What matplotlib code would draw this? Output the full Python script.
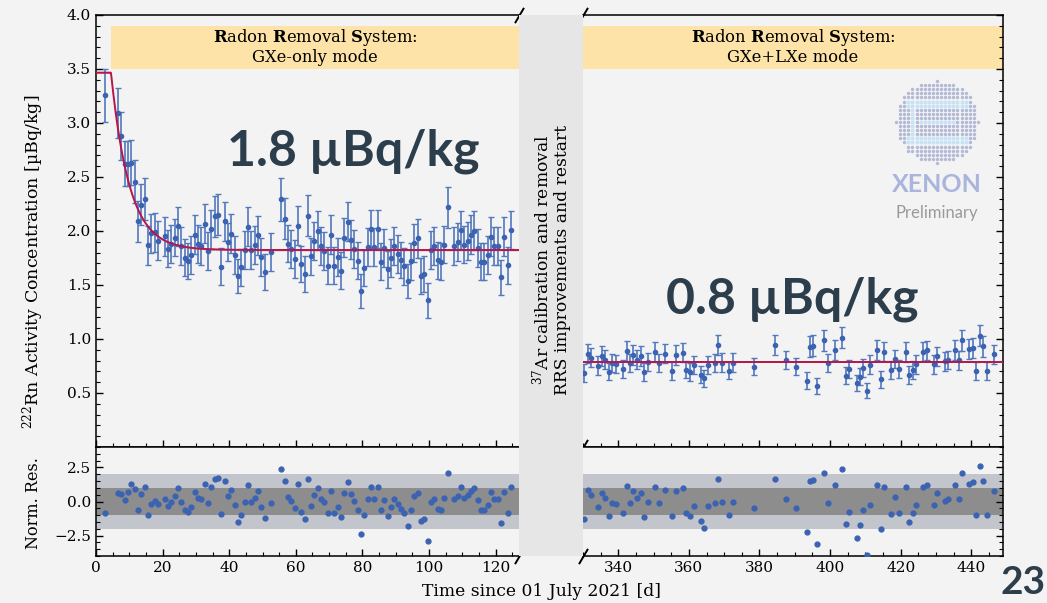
import numpy as np
import matplotlib
matplotlib.use("Agg")
import matplotlib.pyplot as plt
from matplotlib.ticker import MultipleLocator
from matplotlib.patches import Rectangle

# ---------------------------------------------------------------------------
# Rn-222 monitoring, GXe-only RRS period: day, normalised residual, 1-sigma error
gxe_day = [2.7, 6.6, 7.6, 8.6, 9.6, 10.6, 11.6, 12.6, 13.6, 14.6, 15.6, 16.6, 17.6, 18.6,
           20.6, 21.6, 22.6, 23.6, 24.6, 25.6, 26.6, 27.6, 28.6, 29.6, 30.6, 31.6, 32.6,
           33.6, 34.6, 35.6, 36.6, 37.6, 38.6, 39.6, 40.6, 41.6, 42.6, 43.6, 44.6, 45.6,
           46.6, 47.6, 48.6, 49.6, 50.6, 52.6, 55.6, 56.6, 57.6, 58.6, 59.6, 60.6, 61.6,
           62.6, 63.6, 64.6, 65.6, 66.6, 67.6, 68.6, 69.6, 70.6, 71.6, 72.6, 73.6, 74.6,
           75.6, 76.6, 77.6, 78.6, 79.6, 80.6, 81.6, 82.6, 83.6, 84.6, 85.6, 86.6, 87.6,
           88.6, 89.6, 90.6, 91.6, 92.6, 93.6, 94.6, 95.6, 96.6, 97.6, 98.6, 99.6, 100.6,
           101.6, 102.6, 103.6, 104.6, 105.6, 107.6, 108.6, 109.6, 110.6, 111.6, 112.6,
           113.6, 114.6, 115.6, 116.6, 117.6, 118.6, 119.6, 120.6, 121.6, 122.6, 123.6, 124.6]
gxe_res = [-0.86, 0.64, 0.56, 0.10, 0.71, 1.27, 0.91, -0.59, 0.56, 1.08, -0.98, -0.15, 0.07,
           -0.22, 0.22, -0.34, -0.02, 0.37, 0.98, 0.00, -0.59, -0.74, -0.39, 0.69, 0.25, 0.15,
           1.30, -0.12, 1.03, 1.62, 1.69, -0.93, 1.47, 0.39, 0.83, -0.29, -1.52, -0.96, 0.00,
           1.20, -0.02, 0.27, 0.76, -0.37, -1.20, -0.12, 2.40, 1.52, 0.34, 0.07, -0.49, 1.25,
           -0.76, -1.30, 1.67, -0.34, 0.47, 1.00, 0.20, -0.05, -0.86, 0.78, -0.86, -0.37,
           -1.13, 0.64, 1.45, 0.54, 0.05, -0.59, -2.38, -0.98, 0.17, 1.08, 0.17, 1.08, -0.64,
           0.10, -1.05, -0.42, 0.22, -0.20, -0.54, -0.88, -1.79, -0.61, 0.37, 0.61, -1.42,
           -1.30, -2.92, -0.02, 0.22, -0.56, -0.64, 0.29, 2.08, 0.22, 0.42, 1.03, 0.29, 0.47,
           0.78, 1.00, 0.12, -0.64, -0.64, -0.25, 0.69, 0.22, 0.22, -1.59, 0.69, -0.83, 1.03]
gxe_err = [0.245, 0.23, 0.22, 0.21, 0.21, 0.21, 0.20, 0.19, 0.19, 0.195, 0.18, 0.18, 0.18,
           0.18, 0.18, 0.175, 0.175, 0.175, 0.18, 0.175, 0.17, 0.17, 0.175, 0.18, 0.175, 0.175,
           0.18, 0.175, 0.18, 0.19, 0.19, 0.17, 0.18, 0.175, 0.18, 0.175, 0.16, 0.17, 0.175,
           0.18, 0.175, 0.175, 0.18, 0.175, 0.17, 0.175, 0.195, 0.19, 0.175, 0.175, 0.175, 0.18,
           0.17, 0.17, 0.19, 0.175, 0.175, 0.18, 0.175, 0.175, 0.17, 0.18, 0.17, 0.175,
           0.17, 0.18, 0.18, 0.18, 0.175, 0.17, 0.16, 0.17, 0.175, 0.18, 0.175, 0.18, 0.17,
           0.175, 0.17, 0.175, 0.175, 0.175, 0.17, 0.17, 0.16, 0.17, 0.175, 0.18, 0.17,
           0.17, 0.16, 0.175, 0.175, 0.17, 0.17, 0.175, 0.19, 0.175, 0.175, 0.18, 0.175, 0.175,
           0.18, 0.18, 0.175, 0.17, 0.17, 0.175, 0.18, 0.175, 0.175, 0.16, 0.18, 0.17, 0.18]

# GXe+LXe RRS period
lxe_day = [330.4, 331.4, 332.3, 334.3, 335.3, 336.3, 337.4, 338.3, 339.3, 341.3, 342.4, 343.3,
           344.3, 345.3, 346.3, 347.4, 348.3, 350.3, 351.4, 353.3, 355.3, 356.4, 358.4, 359.3,
           360.4, 361.4, 363.4, 364.3, 365.4, 367.3, 368.3, 369.3, 371.4, 372.4, 378.4, 384.4,
           387.4, 390.4, 393.4, 394.4, 395.3, 396.4, 398.4, 399.4, 401.4, 403.4, 404.4, 405.5,
           407.5, 408.4, 409.4, 410.4, 411.4, 413.4, 414.4, 415.4, 417.4, 418.3, 419.4, 421.4,
           422.4, 423.5, 424.4, 426.4, 427.4, 429.4, 430.4, 432.5, 433.4, 435.5, 436.4, 437.4,
           439.4, 440.4, 441.4, 442.5, 443.4, 444.5, 446.4]
lxe_res = [-1.27, 0.86, 0.47, -0.39, 0.64, 0.25, -1.08, -0.10, -0.20, -0.83, 1.13, -0.10,
           0.74, 0.25, 0.64, -1.15, -0.02, 1.03, -0.10, 0.86, -1.03, 0.74, 0.96, -0.86,
           -1.10, -0.32, -1.42, -1.94, -0.32, -0.10, 1.64, -0.07, -0.96, -0.07, -0.51, 1.67,
           0.22, -0.51, -2.23, 1.50, 1.59, -3.11, 2.11, -0.10, 1.23, 2.38, -1.62, -0.78,
           -2.67, -1.76, -0.64, -3.90, -0.27, 1.23, -2.03, 1.08, -0.93, 0.34, -0.81, 1.03,
           -1.47, -0.88, -0.25, 1.08, 1.20, -0.25, 0.59, 0.07, 0.20, 1.23, 0.17, 2.11,
           1.32, 1.45, -1.00, 2.57, 1.52, -1.00, 0.78]
lxe_err = [0.082, 0.09, 0.086, 0.086, 0.09, 0.086, 0.082, 0.086, 0.086, 0.082, 0.09, 0.086,
           0.09, 0.086, 0.09, 0.082, 0.086, 0.09, 0.086, 0.09, 0.082, 0.09, 0.09, 0.082,
           0.082, 0.086, 0.082, 0.078, 0.086, 0.086, 0.095, 0.086, 0.082, 0.086, 0.082, 0.095,
           0.086, 0.082, 0.078, 0.095, 0.095, 0.072, 0.095, 0.086, 0.09, 0.095, 0.078, 0.082,
           0.072, 0.078, 0.082, 0.068, 0.086, 0.09, 0.078, 0.09, 0.082, 0.086, 0.082, 0.09,
           0.082, 0.082, 0.086, 0.09, 0.09, 0.086, 0.09, 0.086, 0.086, 0.09, 0.086, 0.095,
           0.09, 0.09, 0.082, 0.095, 0.095, 0.082, 0.09]

# Fit parameters [µBq/kg, days]
rn_initial = 3.466
rn_gxe = 1.824
rn_lxe = 0.787
t_rrs_on = 4.5
tau_rn = 5.5


def gxe_model(t):
    t = np.asarray(t, dtype=float)
    decay = np.exp(-np.clip(t - t_rrs_on, 0, None) / tau_rn)
    return rn_gxe + (rn_initial - rn_gxe) * decay


def lxe_model(t):
    return np.full_like(np.asarray(t, dtype=float), rn_lxe)


gxe_conc = gxe_model(gxe_day) + np.array(gxe_res) * np.array(gxe_err)
lxe_conc = lxe_model(lxe_day) + np.array(lxe_res) * np.array(lxe_err)

# ---------------------------------------------------------------------------
plt.rcParams["font.family"] = "DejaVu Serif"
plt.rcParams["mathtext.fontset"] = "dejavuserif"

BG = "#f3f3f3"
GAP = "#e6e6e6"
BANNER = "#fde3a7"
BLUE = "#3b63b2"
BLUE_BAR = "#5378bd"
FIT = "#b5174b"
FIT_BAND = "#e9a6b8"
DARK_TXT = "#2c3d4b"

W, H = 1047, 603
fig = plt.figure(figsize=(W / 100, H / 100), dpi=100, facecolor=BG)


def box(x0, y0, x1, y1):
    return [x0 / W, 1 - y1 / H, (x1 - x0) / W, (y1 - y0) / H]


# grey strip marking the interruption between the two periods
fig.patches.append(Rectangle((519 / W, 1 - 556 / H), 64 / W, 541 / H,
                             transform=fig.transFigure, facecolor=GAP,
                             edgecolor="none", zorder=0))

ax_l = fig.add_axes(box(96, 15, 519, 447))
ax_lr = fig.add_axes(box(96, 447, 519, 556), sharex=ax_l)
ax_r = fig.add_axes(box(583, 15, 1003, 447))
ax_rr = fig.add_axes(box(583, 447, 1003, 556), sharex=ax_r)

ax_l.set_xlim(0, 127)
ax_r.set_xlim(330, 449)
for a in (ax_l, ax_r):
    a.set_ylim(0, 4.0)
    a.set_yticks(np.arange(0.5, 4.01, 0.5))
    a.yaxis.set_minor_locator(MultipleLocator(0.1))
for a in (ax_lr, ax_rr):
    a.set_ylim(-4, 4)
    a.yaxis.set_major_locator(MultipleLocator(2.5))
    a.yaxis.set_minor_locator(MultipleLocator(0.5))
for a in (ax_l, ax_lr, ax_r, ax_rr):
    a.xaxis.set_major_locator(MultipleLocator(20))
    a.xaxis.set_minor_locator(MultipleLocator(5))

for a in (ax_l, ax_lr, ax_r, ax_rr):
    a.set_facecolor(BG)
    for s in a.spines.values():
        s.set_linewidth(1.1)
    a.tick_params(which="both", direction="in", top=False, labelsize=11)
    a.tick_params(which="major", length=5, width=1.0)
    a.tick_params(which="minor", length=3, width=0.8)

for a in (ax_l, ax_lr):
    a.spines["right"].set_visible(False)
    a.tick_params(which="both", right=False, left=True)
for a in (ax_r, ax_rr):
    a.spines["left"].set_visible(False)
    a.tick_params(which="both", left=False, right=True, labelleft=False, labelright=False)
for a in (ax_l, ax_r):
    a.tick_params(labelbottom=False)

# RRS banners
ax_l.add_patch(Rectangle((t_rrs_on, 3.5), 127 - t_rrs_on, 0.4, facecolor=BANNER,
                         edgecolor="none", zorder=1))
ax_r.add_patch(Rectangle((330, 3.5), 119, 0.4, facecolor=BANNER, edgecolor="none", zorder=1))
banner_head = r"$\mathbf{R}$adon $\mathbf{R}$emoval $\mathbf{S}$ystem:"
ax_l.text((t_rrs_on + 127) / 2, 3.71, banner_head + "\nGXe-only mode", ha="center",
          va="center", fontsize=11.8, linespacing=1.05, zorder=2)
ax_r.text((330 + 449) / 2, 3.71, banner_head + "\nGXe+LXe mode", ha="center",
          va="center", fontsize=11.8, linespacing=1.05, zorder=2)

# fits
tl = np.linspace(0, 127, 800)
ax_l.fill_between(tl, gxe_model(tl) - 0.008, gxe_model(tl) + 0.008, color=FIT_BAND,
                  lw=0, zorder=2)
ax_l.plot(tl, gxe_model(tl), color=FIT, lw=1.4, zorder=4)
tr = np.linspace(330, 449, 50)
ax_r.fill_between(tr, lxe_model(tr) - 0.012, lxe_model(tr) + 0.012, color=FIT_BAND,
                  lw=0, zorder=2)
ax_r.plot(tr, lxe_model(tr), color=FIT, lw=1.4, zorder=4)

# data
eb = dict(fmt="o", ms=3, color=BLUE, ecolor=BLUE_BAR, elinewidth=1.2, capsize=2,
          capthick=1.0, zorder=3)
ax_l.errorbar(gxe_day, gxe_conc, yerr=gxe_err, **eb)
ax_r.errorbar(lxe_day, lxe_conc, yerr=lxe_err, **eb)

# residual panels
for a, d, r in ((ax_lr, gxe_day, gxe_res), (ax_rr, lxe_day, lxe_res)):
    a.axhspan(-2, 2, color="#c2c5cb", lw=0, zorder=0)
    a.axhspan(-1, 1, color="#8d8d8d", lw=0, zorder=0)
    a.plot(d, r, "o", ms=3.5, color=BLUE, zorder=3)

# broken-axis marks
brk = dict(marker=[(-1, -1.7), (1, 1.7)], markersize=11, linestyle="none", color="k",
           mec="k", mew=1.4, clip_on=False, zorder=10)
ax_l.plot([1, 1], [0, 1], transform=ax_l.transAxes, **brk)
ax_lr.plot([1], [0], transform=ax_lr.transAxes, **brk)
ax_r.plot([0, 0], [0, 1], transform=ax_r.transAxes, **brk)
ax_rr.plot([0], [0], transform=ax_rr.transAxes, **brk)

# labels
fig.text(33 / W, 1 - 262 / H, r"$^{222}$Rn Activity Concentration [µBq/kg]",
         rotation=90, ha="center", va="center", fontsize=12.5)
fig.text(33 / W, 1 - 503 / H, "Norm. Res.", rotation=90, ha="center", va="center",
         fontsize=11.5)
fig.text(542 / W, 1 - 592 / H, "Time since 01 July 2021 [d]", ha="center", va="center",
         fontsize=12.3)
fig.text(551 / W, 1 - 260 / H,
         r"$^{37}$Ar calibration and removal" + "\nRRS improvements and restart",
         rotation=90, ha="center", va="center", fontsize=12.3, linespacing=1.15,
         multialignment="center")

# headline values
fig.text(353 / W, 1 - 165 / H, "1.8 µBq/kg", family="Lato", weight="bold", fontsize=36,
         color=DARK_TXT, ha="center", va="baseline")
fig.text(792 / W, 1 - 314 / H, "0.8 µBq/kg", family="Lato", weight="bold", fontsize=36,
         color=DARK_TXT, ha="center", va="baseline")
fig.text(1001 / W, 1 - 594 / H, "23", family="Lato", weight="bold", fontsize=28,
         color=DARK_TXT, ha="left", va="baseline")

# collaboration mark
logo = fig.add_axes(box(894, 79, 980, 165))
logo.set_xlim(-1.05, 1.05)
logo.set_ylim(-1.05, 1.05)
logo.set_aspect("equal")
logo.axis("off")
g = np.arange(-1.0, 1.001, 0.1)
gx, gy = np.meshgrid(g, g)
inside = gx ** 2 + gy ** 2 <= 1.0
light = inside & (((np.abs(gy - 0.45) < 0.06) & (np.abs(gx) < 0.75))
                  | ((np.abs(gy) < 0.06) & (np.abs(gx) < 0.45))
                  | ((np.abs(gy + 0.45) < 0.06) & (np.abs(gx) < 0.75))
                  | ((np.abs(gx + 0.6) < 0.06) & (np.abs(gy) < 0.45)))
logo.scatter(gx[inside & ~light], gy[inside & ~light], s=6, color="#b2bad8", lw=0)
logo.scatter(gx[light], gy[light], s=8, color="#c8e3f4", lw=0)
fig.text(937 / W, 1 - 185 / H, "XENON", family="Lato", weight="bold", fontsize=18,
         color="#a9b5dc", ha="center", va="center")
fig.text(937 / W, 1 - 213 / H, "Preliminary", family="Lato", fontsize=12,
         color="#9a9a9a", ha="center", va="center")

fig.savefig("out.png", dpi=100, facecolor=BG)
